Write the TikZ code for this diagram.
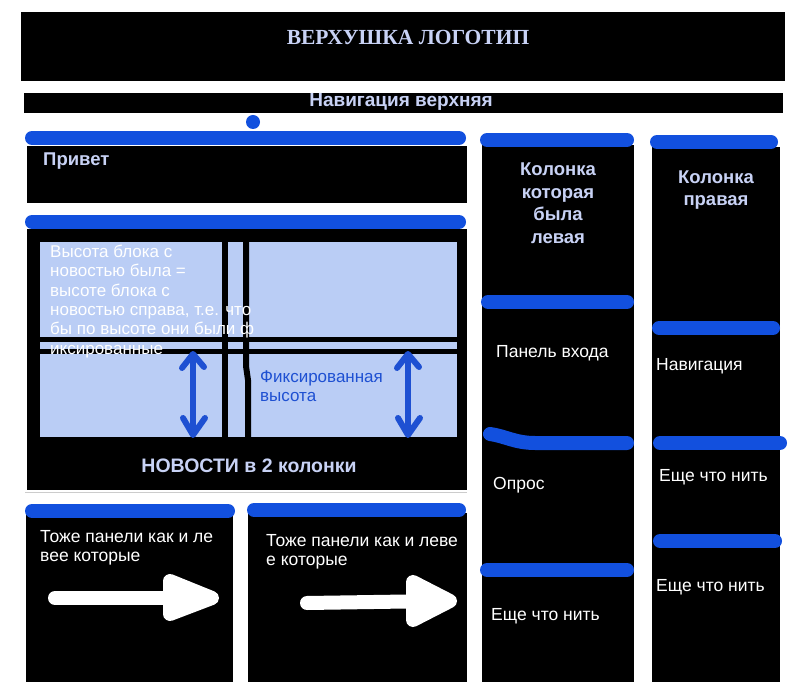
\documentclass[tikz,border=0pt]{standalone}
\usepackage{fontspec}
\setmainfont{Liberation Sans}
\newfontfamily\logofont{Liberation Serif}
\definecolor{BarBlue}{RGB}{18, 80, 222}
\definecolor{PaleText}{RGB}{200, 210, 245}
\definecolor{Blue25}{RGB}{186, 205, 245}
\definecolor{InkBlue}{RGB}{30, 80, 210}

\begin{document}
\begin{tikzpicture}[x=1pt, y=-1pt,
    panel/.style={fill=black},
    bar/.style={BarBlue, line width=14pt, line cap=round},
    heading/.style={PaleText, font=\fontsize{18.5}{22.5}\selectfont\bfseries, inner sep=0pt, align=center},
    label/.style={white, font=\fontsize{17.5}{19}\selectfont, inner sep=0pt, anchor=west},
    height arrow/.style={InkBlue, line width=6pt, line cap=round, line join=round},
    hand arrow/.style={white, line width=14pt, line cap=round, line join=round}
    ]
    \useasboundingbox[fill=white] (0,0) rectangle (800,700);

    % header and top navigation
    \fill[panel] (21,12) rectangle (785,81);
    \node[PaleText, font=\logofont\fontsize{21.5}{24}\selectfont\bfseries] (logo) at (408,37) {ВЕРХУШКА ЛОГОТИП};
    \fill[panel] (24,93) rectangle (783,113);
    \node[heading, font=\fontsize{19}{22}\selectfont\bfseries] (topnav) at (401,102) {Навигация верхняя};
    \fill[BarBlue] (253,122) circle [radius=7pt];

    % main blocks
    \fill[panel] (27,146) rectangle (467,203);
    \node[heading, anchor=west] (hello) at (43,161) {Привет};
    \fill[panel] (27,229) rectangle (467,490);
    \fill[Blue25] (40,242) rectangle (457,437);
    \fill[black] (222,242) rectangle (228,437);
    \draw[black, line width=6pt] (246,242) -- (246,366) -- (248,380) -- (248,437);
    \fill[black] (40,337) rectangle (457,342);
    \fill[black] (40,349) rectangle (457,354);
    \draw[gray!40] (25,492) -- (467,492);
    \node[label, anchor=north west, align=left, font=\fontsize{17}{19.3}\selectfont] (note) at (50,245)
        {Высота блока с\\новостью была =\\высоте блока с\\новостью справа, т.е. что\\бы по высоте они были ф\\иксированные};
    \node[InkBlue, anchor=north west, align=left, inner sep=0pt, font=\fontsize{17}{18.5}\selectfont] (fixed) at (260,371)
        {Фиксированная\\высота};
    \node[heading, font=\fontsize{19.5}{22}\selectfont\bfseries] (news) at (249,466) {НОВОСТИ в 2 колонки};

    % height arrows
    \foreach \x in {193, 408} {
        \draw[height arrow] (\x,356) -- (\x,434);
        \draw[height arrow] (\x-11,368) -- (\x,354) -- (\x+11,367);
        \draw[height arrow] (\x-10,418) -- (\x,435) -- (\x+12,418);
    }

    % bottom panels
    \fill[panel] (26,513) rectangle (233,682);
    \fill[panel] (248,513) rectangle (467,682);
    \node[label, anchor=north west, align=left] (panelA) at (40,530) {Тоже панели как и ле\\вее которые};
    \node[label, anchor=north west, align=left] (panelB) at (266,534) {Тоже панели как и леве\\е которые};
    \draw[hand arrow] (55,598) -- (205,598);
    \filldraw[hand arrow] (170,581) -- (212,598) -- (170,614) -- cycle;
    \draw[hand arrow] (307,603) -- (440,601);
    \filldraw[hand arrow] (413,582) -- (450,601) -- (413,620) -- cycle;

    % side columns
    \fill[panel] (482,145) rectangle (634,682);
    \fill[panel] (652,147) rectangle (780,682);
    \node[heading] (colA) at (558,203) {Колонка\\которая\\была\\левая};
    \node[heading] (colB) at (716,190) {Колонка\\правая};
    \node[label] (login) at (496,353) {Панель входа};
    \node[label] (poll) at (493,485) {Опрос};
    \node[label] (moreA) at (491,616) {Еще что нить};
    \node[label] (sidenav) at (656,366) {Навигация};
    \node[label] (moreB) at (659,477) {Еще что нить};
    \node[label] (moreC) at (656,587) {Еще что нить};

    % blue bars
    \foreach \y/\a/\b in {138/25/466, 222/25/466, 511/25/235, 510/247/466,
                          140/480/634, 302/481/634, 570/480/634,
                          142/650/778, 328/652/780, 443/653/787, 541/653/782}
    \draw[bar] (\a+7,\y) -- (\b-7,\y);
    \draw[bar] (490,434) .. controls (505,436) and (515,443) .. (535,443) -- (627,443);
\end{tikzpicture}
\end{document}
